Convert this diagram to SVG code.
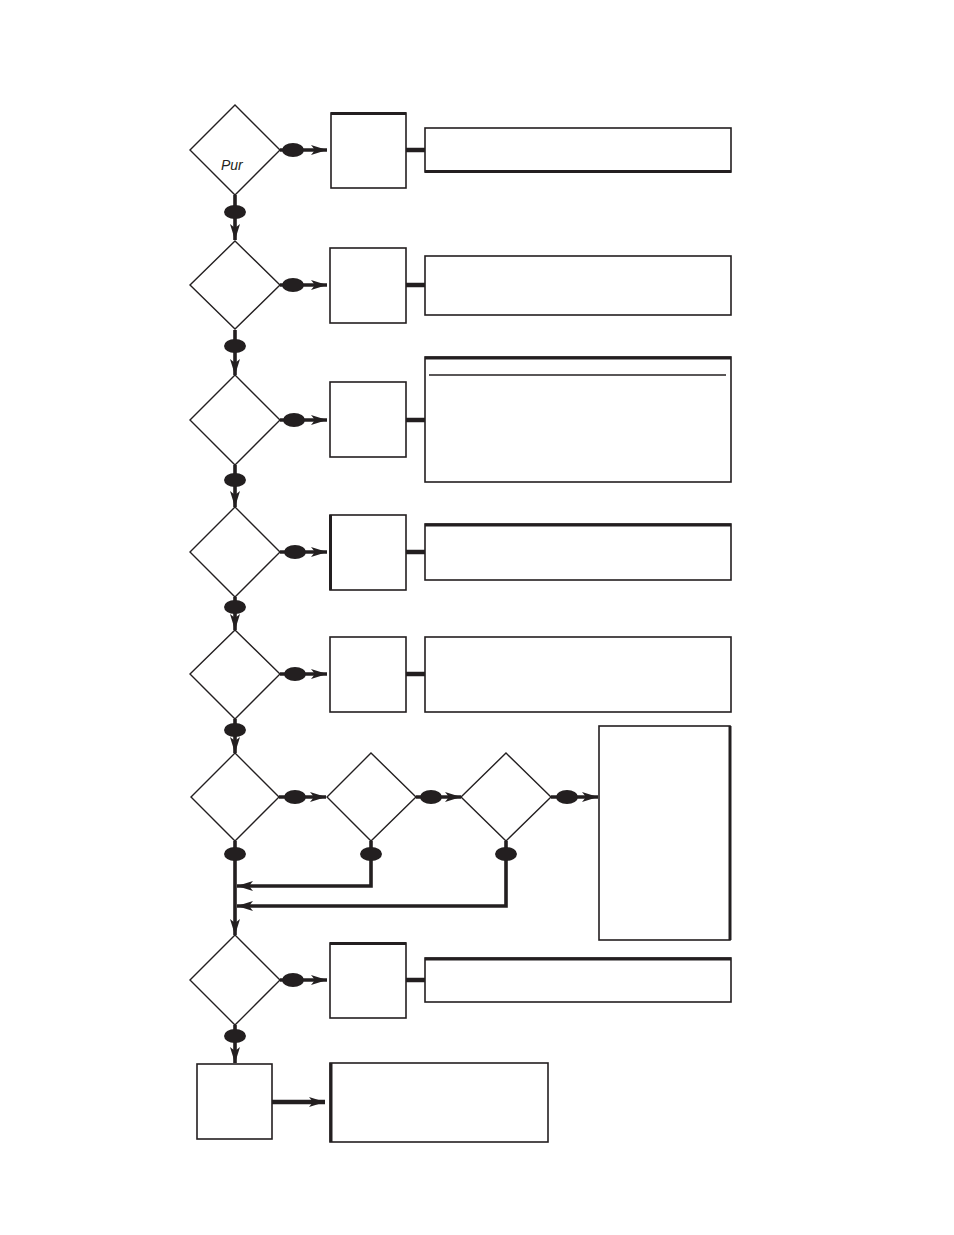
<svg xmlns="http://www.w3.org/2000/svg" width="954" height="1235" viewBox="0 0 954 1235">
<style>
.d{fill:#fff;stroke:#231f20;stroke-width:1.4}
.b{fill:#fff;stroke:#231f20;stroke-width:1.6}
.t{stroke:#231f20;stroke-width:3;fill:none}
.c{stroke:#231f20;stroke-width:3.6;fill:none}
.k{stroke:#231f20;stroke-width:4.5;fill:none}
.e{fill:#231f20}
.lbl{font-family:"Liberation Sans",Arial,sans-serif;font-style:italic;font-size:14px;fill:#231f20}
</style>
<defs>
<marker id="ah" markerUnits="userSpaceOnUse" markerWidth="17" markerHeight="11" refX="16" refY="5" orient="auto">
<path d="M0,0 L16,5 L0,10 L4,5 z" fill="#231f20"/>
</marker>
</defs>
<rect width="954" height="1235" fill="#fff"/>

<g id="connectors">
<path class="c" d="M280,150 H327" marker-end="url(#ah)"/>
<path class="c" d="M280,285 H327" marker-end="url(#ah)"/>
<path class="c" d="M280,420 H327" marker-end="url(#ah)"/>
<path class="c" d="M280,552 H327" marker-end="url(#ah)"/>
<path class="c" d="M280,674 H327" marker-end="url(#ah)"/>
<path class="c" d="M279,797 H326" marker-end="url(#ah)"/>
<path class="c" d="M416,797 H461" marker-end="url(#ah)"/>
<path class="c" d="M551,797 H598" marker-end="url(#ah)"/>
<path class="c" d="M280,980 H327" marker-end="url(#ah)"/>
<path class="c" d="M235,195 V240" marker-end="url(#ah)"/>
<path class="c" d="M235,330 V375" marker-end="url(#ah)"/>
<path class="c" d="M235,465 V507" marker-end="url(#ah)"/>
<path class="c" d="M235,597 V630" marker-end="url(#ah)"/>
<path class="c" d="M235,719 V753" marker-end="url(#ah)"/>
<path class="c" d="M235,841 V935" marker-end="url(#ah)"/>
<path class="c" d="M235,1025 V1063" marker-end="url(#ah)"/>
<path class="c" d="M371,841 V886 H237" marker-end="url(#ah)"/>
<path class="c" d="M506,841 V906 H237" marker-end="url(#ah)"/>
<path class="k" d="M272,1102 H325" marker-end="url(#ah)"/>
<path class="k" d="M406,150 H425"/>
<path class="k" d="M406,285 H425"/>
<path class="k" d="M406,420 H425"/>
<path class="k" d="M406,552 H425"/>
<path class="k" d="M406,674 H425"/>
<path class="k" d="M406,980 H425"/>
<g class="e">
<ellipse cx="293" cy="150" rx="11" ry="7"/>
<ellipse cx="293" cy="285" rx="11" ry="7"/>
<ellipse cx="294" cy="420" rx="11" ry="7"/>
<ellipse cx="295" cy="552" rx="11" ry="7"/>
<ellipse cx="295" cy="674" rx="11" ry="7"/>
<ellipse cx="295" cy="797" rx="11" ry="7"/>
<ellipse cx="431" cy="797" rx="11" ry="7"/>
<ellipse cx="567" cy="797" rx="11" ry="7"/>
<ellipse cx="293" cy="980" rx="11" ry="7"/>
<ellipse cx="235" cy="212" rx="11" ry="7"/>
<ellipse cx="235" cy="346" rx="11" ry="7"/>
<ellipse cx="235" cy="480" rx="11" ry="7"/>
<ellipse cx="235" cy="607" rx="11" ry="7"/>
<ellipse cx="235" cy="730" rx="11" ry="7"/>
<ellipse cx="235" cy="854" rx="11" ry="7"/>
<ellipse cx="371" cy="854" rx="11" ry="7"/>
<ellipse cx="506" cy="854" rx="11" ry="7"/>
<ellipse cx="235" cy="1036" rx="11" ry="7"/>
</g>
</g>

<g id="dec1"><path class="d" d="M235,105 L280,150 L235,195 L190,150 z"/><text class="lbl" x="221" y="170">Pur</text></g>
<g id="dec2"><path class="d" d="M235,241 L280,285 L235,329 L190,285 z"/></g>
<g id="dec3"><path class="d" d="M235,375 L280,420 L235,465 L190,420 z"/></g>
<g id="dec4"><path class="d" d="M235,507 L280,552 L235,597 L190,552 z"/></g>
<g id="dec5"><path class="d" d="M235,630 L280,674 L235,719 L190,674 z"/></g>
<g id="dec6"><path class="d" d="M235,753 L279,797 L235,841 L191,797 z"/></g>
<g id="dec6b"><path class="d" d="M371,753 L416,797 L371,841 L327,797 z"/></g>
<g id="dec6c"><path class="d" d="M506,753 L551,797 L506,841 L461,797 z"/></g>
<g id="dec7"><path class="d" d="M235,935 L280,980 L235,1025 L190,980 z"/></g>

<g id="box1"><rect class="b" x="331" y="113" width="75" height="75"/><path class="t" d="M331,113.5 H406"/></g>
<g id="note1"><rect class="b" x="425" y="128" width="306" height="44"/><path class="t" d="M425,171.5 H731"/></g>
<g id="box2"><rect class="b" x="330" y="248" width="76" height="75"/></g>
<g id="note2"><rect class="b" x="425" y="256" width="306" height="59"/></g>
<g id="box3"><rect class="b" x="330" y="382" width="76" height="75"/></g>
<g id="note3"><rect class="b" x="425" y="357" width="306" height="125"/><path class="t" d="M425,358 H731"/><path class="b" d="M429,375 H726"/></g>
<g id="box4"><rect class="b" x="330" y="515" width="76" height="75"/><path class="t" d="M330.5,515 V590"/></g>
<g id="note4"><rect class="b" x="425" y="524" width="306" height="56"/><path class="t" d="M425,525 H731"/></g>
<g id="box5"><rect class="b" x="330" y="637" width="76" height="75"/></g>
<g id="note5"><rect class="b" x="425" y="637" width="306" height="75"/></g>
<g id="note6"><rect class="b" x="599" y="726" width="131" height="214"/><path class="t" d="M730,726 V940"/></g>
<g id="box7"><rect class="b" x="330" y="943" width="76" height="75"/><path class="t" d="M330,943.5 H406"/></g>
<g id="note7"><rect class="b" x="425" y="958" width="306" height="44"/><path class="t" d="M425,959 H731"/></g>
<g id="box8"><rect class="b" x="197" y="1064" width="75" height="75"/></g>
<g id="note8"><rect class="b" x="330" y="1063" width="218" height="79"/><path class="t" d="M331,1063 V1142"/></g>
</svg>
